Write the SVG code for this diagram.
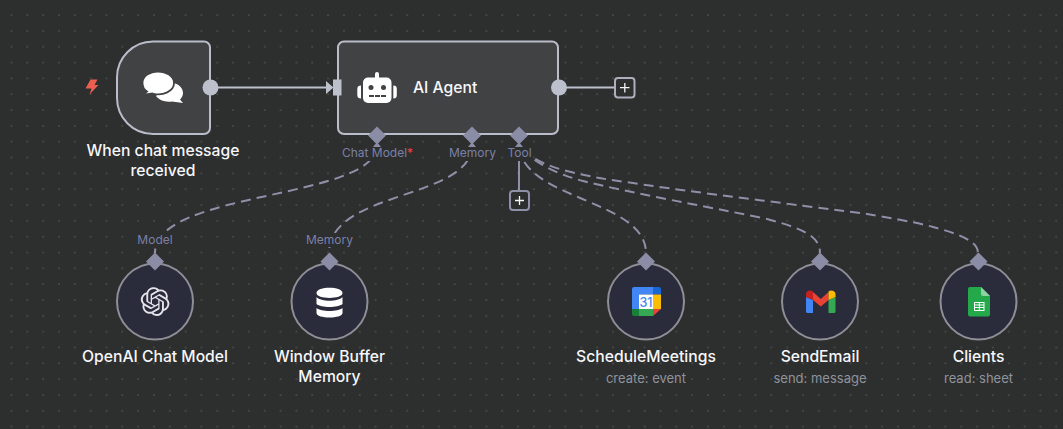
<svg xmlns="http://www.w3.org/2000/svg" width="1063" height="429" viewBox="0 0 1063 429">
<style>
text{font-family:Inter,"Noto Sans","Liberation Sans",sans-serif}
.title{font-size:15.7px;font-weight:500;fill:#f6f7fb;text-anchor:middle}
.sub{font-size:13px;fill:#8f939c;text-anchor:middle}
.port{font-size:12px;fill:#7b80a6;text-anchor:middle}
.card{fill:#414244;stroke:#b9bdc9;stroke-width:2}
.sub-node{fill:#2a2b3b;stroke:#8e8e96;stroke-width:2}
.dot{fill:#bcc0cd}
.dia{fill:#8b8da6}
.dash{fill:none;stroke:#8e90a8;stroke-width:2;stroke-dasharray:10 6}
.solid{fill:none;stroke:#bcc0cd;stroke-width:2}
.plus{fill:#2d2e2e;stroke:#adafbd;stroke-width:2}
.pl{stroke:#f4f4f6;stroke-width:1.3;fill:none}
.w{fill:#fff}
</style>
<defs>
<pattern id="grid" x="10.5" y="14" width="15.83" height="15.83" patternUnits="userSpaceOnUse"><circle cx="1" cy="1" r="0.6" fill="#8b8c8e"/></pattern>
<path id="d" d="M0,-9L9,0L0,9L-9,0Z"/>
</defs>
<rect width="1063" height="429" fill="#2d2e2e"/>
<rect width="1063" height="429" fill="url(#grid)"/>
<g id="connectors">
<path class="solid" d="M211,87.5H328"/>
<path class="solid" d="M559,87.5H615"/>
<path d="M519,147V191" fill="none" stroke="#8e90a8" stroke-width="2"/>
<path class="dash" d="M377,145C377,200 155,190 155,253"/>
<path class="dash" d="M472,145C472,200 329,190 329,253"/>
<path class="dash" d="M519,147C525,200 646,200 646,253"/>
<path class="dash" d="M522,150C540,166 560,175 583,181C640,195 700,205 767,219C800,228 820,235 820,253"/>
<path class="dash" d="M522,150C535,160 550,167 567,171C590,177 610,180 633,183C690,192 800,205 867,214C890,218 915,222 933,227C955,233 978,240 978,253"/>
</g>
<g id="node-trigger">
<path d="M90.500,79.500H97.500L94.500,85H98.500L89.500,94.500L91.500,88.500H85.500Z" fill="#ea5f50"/>
<path class="card" d="M153,41.500H204A6,6 0 0 1 210,47.500V128A6,6 0 0 1 204,134H153A36,36 0 0 1 117,98V77.500A36,36 0 0 1 153,41.500Z"/>
<circle class="dot" cx="210.500" cy="87.500" r="8"/>
<path class="w" d="M169,83C175,82 183,86 183,93C183,96 181.500,98 180,99.500L183,103L172,101.500C165,102.500 159,100 156,96Z"/>
<path class="w" stroke="#414244" stroke-width="1.800" d="M158,71.500C150,71.500 142.500,76 142.500,83C142.500,87 144.500,90 147,91.500L142.500,95L152.500,93.500C163,96.500 174,91 174,83C174,76 166,71.500 158,71.500Z"/>
<text class="title" x="163" y="156">When chat message</text>
<text class="title" x="163" y="176">received</text>
</g>
<g id="node-agent">
<rect class="card" x="338" y="41.500" width="220" height="92.500" rx="6"/>
<path class="dot" d="M326,81L333.500,87.500L326,94Z"/>
<rect class="dot" x="333" y="79.500" width="8.500" height="16"/>
<circle class="dot" cx="559" cy="87.500" r="8"/>
<path class="w" d="M375,74A2,2 0 0 1 379,74V79H375Z"/>
<rect class="w" x="363" y="77.500" width="28.500" height="25.500" rx="5"/>
<path class="w" d="M361,85.500V98.500C358.500,98.500 357.300,97.500 357.300,95V89C357.300,86.500 358.500,85.500 361,85.500Z"/>
<path class="w" d="M393.300,85.500V98.500C395.800,98.500 396.800,97.500 396.800,95V89C396.800,86.500 395.800,85.500 393.300,85.500Z"/>
<circle cx="371" cy="87.500" r="2.500" fill="#414244"/><circle cx="383.500" cy="87.500" r="2.500" fill="#414244"/>
<path d="M369,96H374M375,96H380M381,96H386" stroke="#414244" stroke-width="2.200"/>
<text class="title" x="413" y="92.500" style="text-anchor:start">AI Agent</text>
<use href="#d" class="dia" x="377" y="135.500"/><use href="#d" class="dia" x="472" y="135.500"/><use href="#d" class="dia" x="519" y="135.500"/>
<path class="dia" d="M373,147L377,142L381,147ZM468,147L472,142L476,147ZM515,147L519,142L523,147Z"/>
<rect x="341" y="147" width="74" height="14" fill="#2d2e2e"/>
<rect x="448" y="147" width="48" height="14" fill="#2d2e2e"/>
<rect x="507" y="147" width="26" height="14" fill="#2d2e2e"/>
<text class="port" x="377.500" y="157">Chat Model<tspan fill="#e5484d">*</tspan></text>
<text class="port" x="472.500" y="157">Memory</text>
<text class="port" x="519.500" y="157">Tool</text>
</g>
<g id="plus-main"><rect class="plus" x="615" y="78" width="19.500" height="19.500" rx="3"/><path class="pl" d="M620,87.700H629.500M624.800,83V92.500"/></g>
<g id="plus-tool"><rect class="plus" x="510" y="191" width="19" height="19" rx="3" style="stroke:#8e90a8"/><path class="pl" d="M515,200.500H524M519.500,196V205"/></g>
<g id="node-openai">
<circle class="sub-node" cx="155" cy="301.500" r="38"/>
<use href="#d" class="dia" x="155" y="261.500"/>
<rect x="136" y="233" width="38" height="14" fill="#2d2e2e"/>
<text class="port" x="155" y="244">Model</text>
<path transform="translate(140.700 287.200) scale(1.200)" fill="#e3e3ea" d="M22.2819 9.8211a5.9847 5.9847 0 0 0-.5157-4.9108 6.0462 6.0462 0 0 0-6.5098-2.9A6.0651 6.0651 0 0 0 4.9807 4.1818a5.9847 5.9847 0 0 0-3.9977 2.9 6.0462 6.0462 0 0 0 .7427 7.0966 5.98 5.98 0 0 0 .511 4.9107 6.051 6.051 0 0 0 6.5146 2.9001A5.9847 5.9847 0 0 0 13.2599 24a6.0557 6.0557 0 0 0 5.7718-4.2058 5.9894 5.9894 0 0 0 3.9977-2.9001 6.0557 6.0557 0 0 0-.7475-7.0729zm-9.022 12.6081a4.4755 4.4755 0 0 1-2.8764-1.0408l.1419-.0804 4.7783-2.7582a.7948.7948 0 0 0 .3927-.6813v-6.7369l2.02 1.1686a.071.071 0 0 1 .038.052v5.5826a4.504 4.504 0 0 1-4.4945 4.4944zm-9.6607-4.1254a4.4708 4.4708 0 0 1-.5346-3.0137l.142.0852 4.783 2.7582a.7712.7712 0 0 0 .7806 0l5.8428-3.3685v2.3324a.0804.0804 0 0 1-.0332.0615L9.74 19.9502a4.4992 4.4992 0 0 1-6.1408-1.6464zM2.3408 7.8956a4.485 4.485 0 0 1 2.3655-1.9728V11.6a.7664.7664 0 0 0 .3879.6765l5.8144 3.3543-2.0201 1.1685a.0757.0757 0 0 1-.071 0l-4.8303-2.7865A4.504 4.504 0 0 1 2.3408 7.872zm16.5963 3.8558L13.1038 8.364 15.1192 7.2a.0757.0757 0 0 1 .071 0l4.8303 2.7913a4.4944 4.4944 0 0 1-.6765 8.1042v-5.6772a.79.79 0 0 0-.407-.667zm2.0107-3.0231l-.142-.0852-4.7735-2.7818a.7759.7759 0 0 0-.7854 0L9.409 9.2297V6.8974a.0662.0662 0 0 1 .0284-.0615l4.8303-2.7866a4.4992 4.4992 0 0 1 6.6802 4.66zM8.3065 12.863l-2.02-1.1638a.0804.0804 0 0 1-.038-.0567V6.0742a4.4992 4.4992 0 0 1 7.3757-3.4537l-.142.0805L8.704 5.459a.7948.7948 0 0 0-.3927.6813zm1.0976-2.3654l2.602-1.4998 2.6069 1.4998v2.9994l-2.5974 1.4997-2.6067-1.4997Z"/>
<text class="title" x="155" y="362">OpenAI Chat Model</text>
</g>
<g id="node-memory">
<circle class="sub-node" cx="329.500" cy="301.500" r="38"/>
<use href="#d" class="dia" x="329.500" y="261.500"/>
<rect x="305" y="233" width="48" height="14" fill="#2d2e2e"/>
<text class="port" x="329.500" y="244">Memory</text>
<path class="w" d="M316.500,293C316.500,286 342.500,286 342.500,293C342.500,299.500 316.500,299.500 316.500,293ZM316.500,297C321,302 338,302 342.500,297V304C338,308 321,308 316.500,304ZM316.500,308C321,312 338,312 342.500,308V313C342.500,319 316.500,319 316.500,313Z"/>
<text class="title" x="329.500" y="362">Window Buffer</text>
<text class="title" x="329.500" y="382">Memory</text>
</g>
<g id="node-calendar">
<circle class="sub-node" cx="646" cy="301.500" r="38"/>
<use href="#d" class="dia" x="646" y="261.500"/>
<path d="M634,287H653V294.500H639V309H632V289A2,2 0 0 1 634,287Z" fill="#4285f4"/>
<path d="M653,287H659A2,2 0 0 1 661,289V294.500H653Z" fill="#1967d2"/>
<rect x="653" y="294.500" width="8" height="14.500" fill="#fbbc04"/>
<rect x="639" y="294.500" width="14" height="14.500" fill="#fff"/>
<rect x="639" y="309" width="14" height="7" fill="#34a853"/>
<path d="M653,309H661L653,316Z" fill="#ea4335"/>
<path d="M632,309H639V316H634A2,2 0 0 1 632,314Z" fill="#188038"/>
<text x="646" y="306.500" font-size="12.500" font-weight="500" text-anchor="middle" fill="#4285f4">31</text>
<text class="title" x="646" y="362">ScheduleMeetings</text>
<text class="sub" x="646" y="383">create: event</text>
</g>
<g id="node-gmail">
<circle class="sub-node" cx="820" cy="301.500" r="38"/>
<use href="#d" class="dia" x="820" y="261.500"/>
<path d="M806,297V312A1.500,1.500 0 0 0 807.500,313H813V300Z" fill="#4285f4"/>
<path d="M828.500,300V313H834A1.500,1.500 0 0 0 835.500,312V297Z" fill="#34a853"/>
<path d="M813,292L820.800,299L828.500,292V300L820.800,306.500L813,300Z" fill="#ea4335"/>
<path d="M806,297V294C806,291 809.500,289.500 813,291.500V300Z" fill="#c5221f"/>
<path d="M828.500,291.500C831,289.500 835.500,291 835.500,294V297L828.500,300Z" fill="#fbbc04"/>
<text class="title" x="820" y="362">SendEmail</text>
<text class="sub" x="820" y="383">send: message</text>
</g>
<g id="node-sheets">
<circle class="sub-node" cx="978.500" cy="301.500" r="38"/>
<use href="#d" class="dia" x="978.500" y="261.500"/>
<path d="M970,287H981L990,296V314.500A2,2 0 0 1 988,316.500H970A2,2 0 0 1 968,314.500V289A2,2 0 0 1 970,287Z" fill="#23a84a"/>
<path d="M981,287L990,296H983A2,2 0 0 1 981,294Z" fill="#8ed1a4"/>
<path d="M974,302H984.500V311H974ZM975,303V304.500H978.800V303ZM979.800,303V304.500H983.500V303ZM975,305.500V307H978.800V305.500ZM979.800,305.500V307H983.500V305.500ZM975,308V310H978.800V308ZM979.800,308V310H983.500V308Z" fill="#fff" fill-rule="evenodd"/>
<text class="title" x="978.500" y="362">Clients</text>
<text class="sub" x="978.500" y="383">read: sheet</text>
</g>
</svg>
